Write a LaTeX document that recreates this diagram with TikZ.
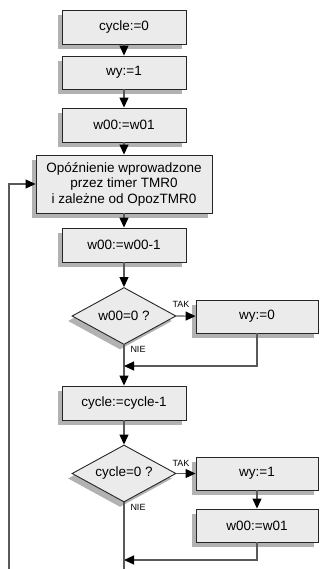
\documentclass[tikz,border=0pt]{standalone}
\usepackage{fontspec}
\setmainfont{Liberation Sans}
\usetikzlibrary{shapes,shadows,arrows.meta,positioning}

\begin{document}
\begin{tikzpicture}[x=1pt, y=-1pt, font=\fontsize{13.5}{15.5}\selectfont]
    \tikzstyle{box}=[rectangle, draw=black!85, line width=0.9pt, fill=black!8, minimum width=124pt, minimum height=34pt, inner sep=0pt, align=center,
        drop shadow={shadow xshift=-4pt, shadow yshift=-5pt, fill=black!30, opacity=1}]
    \tikzstyle{test}=[diamond, draw=black!85, line width=0.9pt, fill=black!8, aspect=1.8, minimum width=104pt, minimum height=57pt, inner sep=0pt,
        drop shadow={shadow xshift=-4pt, shadow yshift=-5pt, fill=black!30, opacity=1}]
    \tikzstyle{conn}=[draw=black!65, line width=1.1pt]
    \tikzstyle{arr}=[conn, -{Triangle[length=10pt, width=9pt, black]}]
    \tikzstyle{lbl}=[font=\fontsize{9}{10}\selectfont, inner sep=0pt]
    \useasboundingbox (0,0) rectangle (320,569);

    % main column
    \node[box] (cyc0) at (124,27) {cycle:=0};
    \node[box, minimum height=33pt] (wy1) at (124,72.5) {wy:=1};
    \node[box] (w0) at (124,125) {w00:=w01};
    \node[box, minimum width=176pt, minimum height=58pt] (delay) at (124,184) {Opóźnienie wprowadzone\\przez timer TMR0\\i zależne od OpozTMR0};
    \node[box] (dec) at (124,245) {w00:=w00-1};
    \node[test] (d1) at (124,316) {w00=0 ?};
    \node[box] (cdec) at (124,403) {cycle:=cycle-1};
    \node[test] (d2) at (124,473.5) {cycle=0 ?};

    % right branches
    \node[box, minimum width=122pt, minimum height=33pt] (wy0) at (257,316.5) {wy:=0};
    \node[box, minimum width=122pt, minimum height=33pt] (wy1b) at (257,473.5) {wy:=1};
    \node[box, minimum width=122pt, minimum height=33pt] (w0b) at (257,525.5) {w00:=w01};

    \node[lbl] (tak1) at (181,304) {TAK};
    \node[lbl] (nie1) at (138,349.5) {NIE};
    \node[lbl] (tak2) at (181,463) {TAK};
    \node[lbl] (nie2) at (138,507.5) {NIE};

    \coordinate (m1) at (124,366);
    \coordinate (m2) at (124,560);
    \coordinate (bot) at (124,569);
    \coordinate (lp) at (9,569);

    \foreach \a/\b in {cyc0/wy1,wy1/w0,w0/delay,delay/dec,dec/d1,cdec/d2,wy1b/w0b} {
        \path[arr] (\a) -- (\b);
    }
    \path[arr] (d1.east) -- (wy0);
    \path[arr] (d2.east) -- (wy1b);
    \path[conn] (d1.south) -- (m1);
    \path[arr] (m1) -- (cdec);
    \path[arr] (wy0.south) |- (m1);
    \path[arr] (w0b.south) |- (m2);
    \path[conn] (d2.south) -- (bot);
    \path[arr] (lp) |- (delay.west);
\end{tikzpicture}
\end{document}
